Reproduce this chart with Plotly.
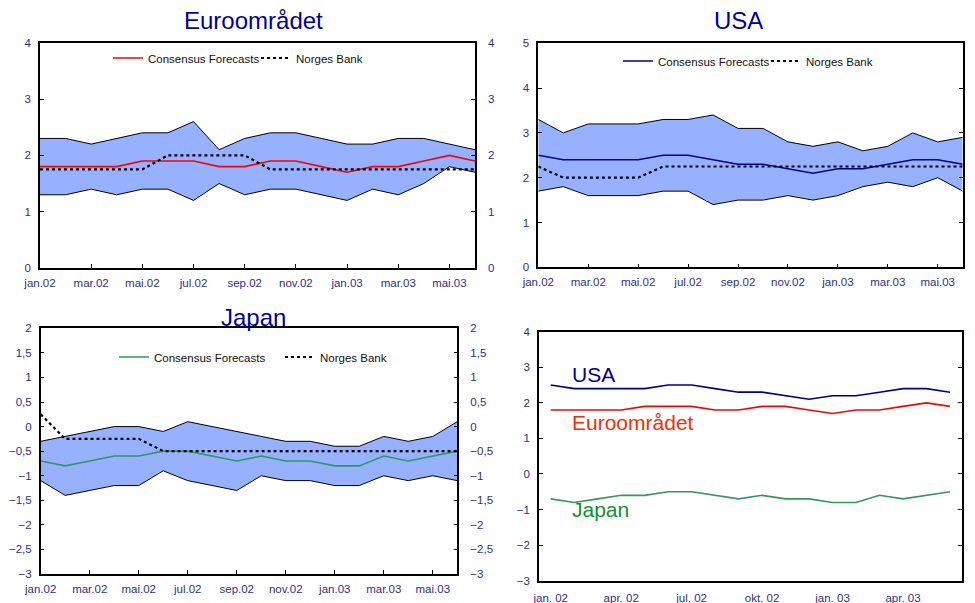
import plotly.graph_objects as go

months = ["jan.02", "feb.02", "mar.02", "apr.02", "mai.02", "jun.02", "jul.02", "aug.02", "sep.02",
          "okt.02", "nov.02", "des.02", "jan.03", "feb.03", "mar.03", "apr.03", "mai.03", "jun.03"]
q_ticks = ["jan. 02", "apr. 02", "jul. 02", "okt. 02", "jan. 03", "apr. 03"]

euro_high = [2.3, 2.3, 2.2, 2.3, 2.4, 2.4, 2.6, 2.1, 2.3, 2.4, 2.4, 2.3, 2.2, 2.2, 2.3, 2.3, 2.2, 2.1]
euro_low = [1.3, 1.3, 1.4, 1.3, 1.4, 1.4, 1.2, 1.5, 1.3, 1.4, 1.4, 1.3, 1.2, 1.4, 1.3, 1.5, 1.8, 1.7]
euro_cf = [1.8, 1.8, 1.8, 1.8, 1.9, 1.9, 1.9, 1.8, 1.8, 1.9, 1.9, 1.8, 1.7, 1.8, 1.8, 1.9, 2.0, 1.9]
euro_nb = [1.75, 1.75, 1.75, 1.75, 1.75, 2.0, 2.0, 2.0, 2.0, 1.75, 1.75, 1.75, 1.75, 1.75, 1.75, 1.75, 1.75, 1.75]

usa_high = [3.3, 3.0, 3.2, 3.2, 3.2, 3.3, 3.3, 3.4, 3.1, 3.1, 2.8, 2.7, 2.8, 2.6, 2.7, 3.0, 2.8, 2.9]
usa_low = [1.7, 1.8, 1.6, 1.6, 1.6, 1.7, 1.7, 1.4, 1.5, 1.5, 1.6, 1.5, 1.6, 1.8, 1.9, 1.8, 2.0, 1.7]
usa_cf = [2.5, 2.4, 2.4, 2.4, 2.4, 2.5, 2.5, 2.4, 2.3, 2.3, 2.2, 2.1, 2.2, 2.2, 2.3, 2.4, 2.4, 2.3]
usa_nb = [2.25, 2.0, 2.0, 2.0, 2.0, 2.25, 2.25, 2.25, 2.25, 2.25, 2.25, 2.25, 2.25, 2.25, 2.25, 2.25, 2.25, 2.25]

jap_high = [-0.3, -0.2, -0.1, 0.0, 0.0, -0.1, 0.1, 0.0, -0.1, -0.2, -0.3, -0.3, -0.4, -0.4, -0.2, -0.3, -0.2, 0.1]
jap_low = [-1.1, -1.4, -1.3, -1.2, -1.2, -0.9, -1.1, -1.2, -1.3, -1.0, -1.1, -1.1, -1.2, -1.2, -1.0, -1.1, -1.0, -1.1]
jap_cf = [-0.7, -0.8, -0.7, -0.6, -0.6, -0.5, -0.5, -0.6, -0.7, -0.6, -0.7, -0.7, -0.8, -0.8, -0.6, -0.7, -0.6, -0.5]
jap_nb = [0.25, -0.25, -0.25, -0.25, -0.25, -0.5, -0.5, -0.5, -0.5, -0.5, -0.5, -0.5, -0.5, -0.5, -0.5, -0.5, -0.5, -0.5]

RED = "#FF0000"
NAVY = "#000090"
GREEN = "#2E9B5B"
BAND = "#95B1FF"
TICKC = "#2E2E96"
TITLEC = "#0000A0"
FONT = "Arial, Liberation Sans, sans-serif"

fig = go.Figure()

panels = [
    ("x", "y", "y2", euro_high, euro_low, euro_cf, euro_nb, RED, "legend", "legend4"),
    ("x2", "y3", "y4", usa_high, usa_low, usa_cf, usa_nb, NAVY, "legend2", "legend5"),
    ("x3", "y5", "y6", jap_high, jap_low, jap_cf, jap_nb, GREEN, "legend3", "legend6"),
]

for xa, ya, yb, hi, lo, cf, nb, col, leg, leg_nb in panels:
    fig.add_trace(go.Scatter(x=months, y=lo, xaxis=xa, yaxis=ya, mode="lines",
                             line=dict(color="black", width=1), showlegend=False, hoverinfo="skip"))
    fig.add_trace(go.Scatter(x=months, y=hi, xaxis=xa, yaxis=ya, mode="lines", fill="tonexty",
                             fillcolor=BAND, line=dict(color="black", width=1),
                             showlegend=False, hoverinfo="skip"))
    fig.add_trace(go.Scatter(x=months, y=cf, xaxis=xa, yaxis=ya, mode="lines", name="Consensus Forecasts",
                             line=dict(color=col, width=1.6), legend=leg))
    fig.add_trace(go.Scatter(x=months, y=nb, xaxis=xa, yaxis=ya, mode="lines", name="Norges Bank",
                             line=dict(color="black", width=2.2, dash="dot"), legend=leg_nb))
    fig.add_trace(go.Scatter(x=months, y=hi, xaxis=xa, yaxis=yb, mode="lines", line=dict(width=0),
                             opacity=0, showlegend=False, hoverinfo="skip"))

for vals, col in [(usa_cf, NAVY), (euro_cf, RED), (jap_cf, GREEN)]:
    fig.add_trace(go.Scatter(x=months, y=vals, xaxis="x4", yaxis="y7", mode="lines",
                             line=dict(color=col, width=1.6), showlegend=False))
fig.add_trace(go.Scatter(x=months, y=usa_cf, xaxis="x4", yaxis="y8", mode="lines", line=dict(width=0),
                         opacity=0, showlegend=False, hoverinfo="skip"))

tickfont = dict(family=FONT, size=11.5, color=TICKC)

def xaxis(domain, anchor, tickvals, ticktext, rng, ticks="inside", standoff=3):
    return dict(domain=domain, anchor=anchor, type="category", range=rng, automargin=False,
                tickvals=tickvals, ticktext=ticktext, ticks=ticks, ticklen=4, tickcolor="black",
                showline=True, linecolor="black", linewidth=1.5, mirror=True,
                showgrid=False, zeroline=False, tickfont=tickfont, ticklabelstandoff=standoff)

def yaxis(domain, anchor, rng, dtick, side="left", overlaying=None):
    d = dict(domain=domain, anchor=anchor, range=rng, dtick=dtick, tick0=rng[0], automargin=False,
             ticks="inside", ticklen=4, tickcolor="black", showline=True, linecolor="black",
             linewidth=1.5, showgrid=False, zeroline=False, tickfont=tickfont, side=side,
             ticklabelstandoff=5)
    if overlaying:
        d["overlaying"] = overlaying
        d["ticklabelstandoff"] = 9
        d.pop("domain")
    return d

d1x = [40 / 975, 475 / 975]
d1y = [1 - 268 / 603, 1 - 42.7 / 603]
d2x = [538.3 / 975, 962.7 / 975]
d2y = [1 - 267.3 / 603, 1 - 43.3 / 603]
d3x = [40.7 / 975, 457.3 / 975]
d3y = [1 - 574 / 603, 1 - 328.3 / 603]
d4x = [539 / 975, 961.7 / 975]
d4y = [1 - 580.7 / 603, 1 - 331.7 / 603]

legfont = dict(family=FONT, size=11.5, color="#111111")
legcommon = dict(orientation="h", xanchor="left", yanchor="middle", font=legfont,
                 bgcolor="rgba(0,0,0,0)", itemwidth=30, traceorder="normal")

fig.update_layout(
    width=975, height=603,
    margin=dict(l=0, r=0, t=0, b=0, autoexpand=False),
    paper_bgcolor="white", plot_bgcolor="white",
    separators=", ",
    font=dict(family=FONT),
    xaxis=xaxis(d1x, "y", months[::2], months[::2], [0, 17]),
    yaxis=yaxis(d1y, "x", [0, 4], 1),
    yaxis2=yaxis(None, "x", [0, 4], 1, side="right", overlaying="y"),
    xaxis2=xaxis(d2x, "y3", months[::2], months[::2], [0, 17]),
    yaxis3=yaxis(d2y, "x2", [0, 5], 1),
    yaxis4=yaxis(None, "x2", [0, 5], 1, side="right", overlaying="y3"),
    xaxis3=xaxis(d3x, "y5", months[::2], months[::2], [0, 17]),
    yaxis5=yaxis(d3y, "x3", [-3, 2], 0.5),
    yaxis6=yaxis(None, "x3", [-3, 2], 0.5, side="right", overlaying="y5"),
    xaxis4=xaxis(d4x, "y7", months[::3], q_ticks, [-0.5, 17.5], ticks="", standoff=6),
    yaxis7=yaxis(d4y, "x4", [-3, 4], 1),
    yaxis8=yaxis(None, "x4", [-3, 4], 1, side="right", overlaying="y7"),
    legend=dict(x=108 / 975, y=1 - 58 / 603, **legcommon),
    legend4=dict(x=256 / 975, y=1 - 58 / 603, **legcommon),
    legend2=dict(x=618 / 975, y=1 - 61 / 603, **legcommon),
    legend5=dict(x=766 / 975, y=1 - 61 / 603, **legcommon),
    legend3=dict(x=114 / 975, y=1 - 357 / 603, **legcommon),
    legend6=dict(x=280 / 975, y=1 - 357 / 603, **legcommon),
)

titlefont = dict(family=FONT, size=24, color=TITLEC)
fig.add_annotation(text="Euroområdet", x=254 / 975, y=1 - 21 / 603, xref="paper", yref="paper",
                   showarrow=False, font=titlefont, xanchor="center", yanchor="middle")
fig.add_annotation(text="USA", x=738 / 975, y=1 - 21 / 603, xref="paper", yref="paper",
                   showarrow=False, font=titlefont, xanchor="center", yanchor="middle")
fig.add_annotation(text="Japan", x=254 / 975, y=1 - 317 / 603, xref="paper", yref="paper",
                   showarrow=False, font=titlefont, xanchor="center", yanchor="middle")

labfont = 21
fig.add_annotation(text="USA", x=0.8, y=2.8, xref="x4", yref="y7", showarrow=False,
                   font=dict(family=FONT, size=labfont, color=NAVY), xanchor="left", yanchor="middle")
fig.add_annotation(text="Euroområdet", x=0.8, y=1.45, xref="x4", yref="y7", showarrow=False,
                   font=dict(family=FONT, size=labfont, color="#FF2A00"), xanchor="left", yanchor="middle")
fig.add_annotation(text="Japan", x=0.8, y=-1.0, xref="x4", yref="y7", showarrow=False,
                   font=dict(family=FONT, size=labfont, color="#109030"), xanchor="left", yanchor="middle")

fig.write_html("out.html", config={"displayModeBar": False},
               post_script="document.body.style.margin='0px';document.body.style.overflow='hidden';")
